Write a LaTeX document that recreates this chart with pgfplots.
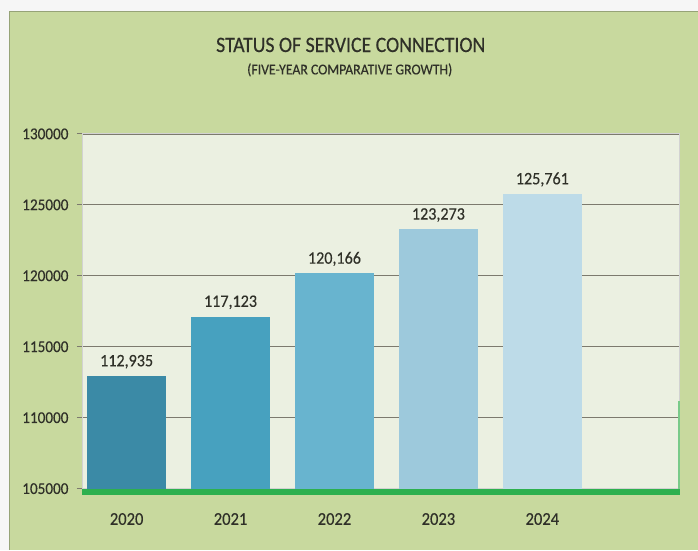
\documentclass[border=0pt]{standalone}
\usepackage{pgfplots}
\pgfplotsset{compat=1.18}
\usepackage{fontspec}
\setmainfont{Carlito}
\newfontfamily\condfont[FakeStretch=0.92,FakeBold=0.3]{Carlito}
\newfontfamily\titlefont[FakeStretch=0.9,FakeBold=0.4]{Carlito}
\definecolor{panel}{HTML}{C8D99E}
\definecolor{plotbg}{HTML}{EBF0E1}
\definecolor{floorgreen}{HTML}{2DB04E}
\definecolor{gridc}{HTML}{7C7A6E}
\definecolor{bA}{HTML}{3B8AA6}
\definecolor{bB}{HTML}{47A1BF}
\definecolor{bC}{HTML}{68B4CF}
\definecolor{bD}{HTML}{9DC9DC}
\definecolor{bE}{HTML}{BDDBE8}
\definecolor{txt}{HTML}{2F3028}
\begin{document}
\begin{tikzpicture}[x=1pt,y=1pt]
\fill[white!93!gray] (0,0) rectangle (698,550);
\fill[panel] (10,0) rectangle (698,538);
\draw[panel!75!black, line width=1pt] (10,0) -- (10,538) -- (698,538);
\node[txt, font=\titlefont\fontsize{22}{25}\selectfont] at (351,505) {STATUS OF SERVICE CONNECTION};
\node[txt, font=\condfont\fontsize{15}{17}\selectfont] at (350,480) {(FIVE-YEAR COMPARATIVE GROWTH)};
\begin{axis}[
  at={(82pt,61pt)}, anchor=south west,
  scale only axis, width=598pt, height=355pt,
  axis background/.style={fill=plotbg},
  ymin=105000, ymax=130000,
  ytick={105000,110000,115000,120000,125000,130000},
  scaled ticks=false,
  xmin=-0.43, xmax=5.32,
  xtick={0,1,2,3,4},
  xticklabels={2020,2021,2022,2023,2024},
  xtick style={draw=none},
  ytick pos=left,
  tick align=outside,
  major tick length=5pt,
  ytick style={gridc, line width=0.8pt},
  ymajorgrids,
  grid style={gridc, line width=1.3pt},
  axis line style={gray!35, line width=0.8pt},
  /pgf/number format/assume math mode=true,
  yticklabel style={/pgf/number format/.cd, fixed, precision=0, 1000 sep={}, /tikz/.cd, font=\condfont\fontsize{16.5}{18}\selectfont, text=txt, xshift=-5pt},
  xticklabel style={font=\condfont\fontsize{18}{20}\selectfont, text=txt, yshift=-16pt},
  ybar, bar width=79pt,
  nodes near coords={\pgfmathprintnumber[fixed,precision=0,1000 sep={,}]{\pgfplotspointmeta}},
  nodes near coords style={font=\condfont\fontsize{17.5}{19}\selectfont, text=txt, yshift=4pt},
  clip=false,
]
\addplot[fill=bA, draw=none, bar shift=0pt] coordinates {(0,112935)};
\addplot[fill=bB, draw=none, bar shift=0pt] coordinates {(1,117123)};
\addplot[fill=bC, draw=none, bar shift=0pt] coordinates {(2,120166)};
\addplot[fill=bD, draw=none, bar shift=0pt] coordinates {(3,123273)};
\addplot[fill=bE, draw=none, bar shift=0pt] coordinates {(4,125761)};
\fill[floorgreen] (rel axis cs:0,0) rectangle ([yshift=-6pt]rel axis cs:1,0);
\fill[floorgreen!60!plotbg] ([xshift=-2pt]rel axis cs:1,0) rectangle ([yshift=-1pt]rel axis cs:1,0.25);
\end{axis}
\end{tikzpicture}
\end{document}
